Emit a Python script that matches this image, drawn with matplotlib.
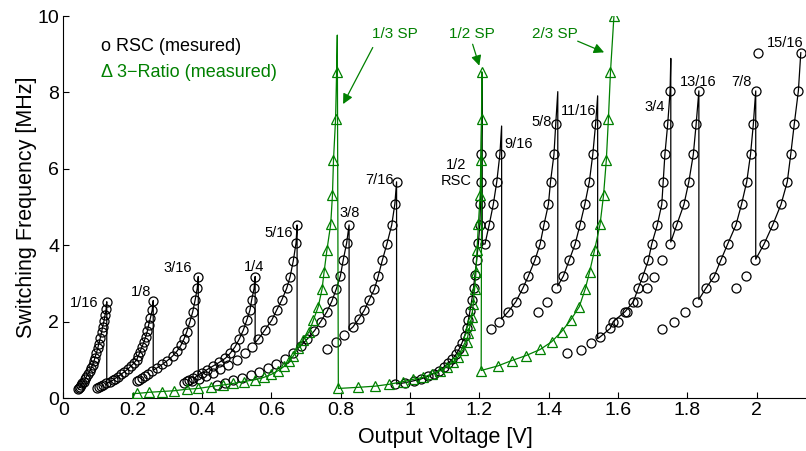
import matplotlib.pyplot as plt
import numpy as np

plt.rcParams['font.family'] = ['Liberation Sans', 'DejaVu Sans']

# RSC (measured) branches: output voltage [V] vs switching frequency [MHz]
v_1_16 = [0.125, 0.123, 0.12, 0.117, 0.113, 0.11, 0.106, 0.102, 0.099, 0.095, 0.091, 0.088,
          0.084, 0.08, 0.076, 0.071, 0.066, 0.062, 0.058, 0.054, 0.051, 0.048, 0.045, 0.043]
f_1_16 = [2.52, 2.32, 2.17, 2.02, 1.87, 1.72, 1.56, 1.42, 1.3, 1.18, 1.06, 0.96,
          0.87, 0.78, 0.7, 0.62, 0.55, 0.49, 0.43, 0.38, 0.34, 0.3, 0.27, 0.24]
v_1_8 = [0.259, 0.256, 0.251, 0.246, 0.242, 0.237, 0.232, 0.226, 0.221, 0.216, 0.211, 0.203, 0.194,
         0.185, 0.175, 0.166, 0.156, 0.149, 0.142, 0.133, 0.124, 0.115, 0.108, 0.102, 0.096]
f_1_8 = [2.55, 2.3, 2.1, 1.92, 1.75, 1.6, 1.46, 1.33, 1.21, 1.1, 1.0, 0.91, 0.83,
         0.75, 0.68, 0.62, 0.56, 0.51, 0.46, 0.42, 0.38, 0.34, 0.31, 0.28, 0.25]
v_3_16 = [0.389, 0.386, 0.38, 0.373, 0.365, 0.356, 0.348, 0.339, 0.328, 0.315, 0.3, 0.285,
          0.27, 0.256, 0.244, 0.234, 0.226, 0.219, 0.213]
f_3_16 = [3.18, 2.87, 2.57, 2.26, 2.0, 1.74, 1.55, 1.38, 1.23, 1.1, 0.98, 0.88,
          0.79, 0.71, 0.64, 0.58, 0.53, 0.48, 0.44]
v_1_4 = [0.553, 0.55, 0.543, 0.538, 0.529, 0.519, 0.507, 0.495, 0.481, 0.467, 0.449, 0.431,
         0.414, 0.399, 0.386, 0.374, 0.363, 0.355, 0.348]
f_1_4 = [3.18, 2.87, 2.57, 2.3, 2.04, 1.78, 1.54, 1.34, 1.17, 1.04, 0.93, 0.83,
         0.74, 0.66, 0.59, 0.53, 0.48, 0.44, 0.4]
v_5_16 = [0.674, 0.671, 0.663, 0.654, 0.644, 0.63, 0.615, 0.601, 0.581, 0.562, 0.543, 0.524,
          0.5, 0.476, 0.452, 0.43, 0.41, 0.39, 0.372]
f_5_16 = [4.53, 4.06, 3.59, 3.18, 2.87, 2.57, 2.3, 2.04, 1.78, 1.54, 1.34, 1.17,
          1.0, 0.87, 0.75, 0.65, 0.57, 0.5, 0.44]
v_3_8 = [0.824, 0.817, 0.807, 0.799, 0.787, 0.774, 0.76, 0.742, 0.724, 0.704, 0.684, 0.662,
         0.638, 0.614, 0.59, 0.565, 0.54, 0.515, 0.49, 0.466, 0.442]
f_3_8 = [4.53, 4.06, 3.61, 3.2, 2.85, 2.53, 2.26, 2.0, 1.76, 1.55, 1.36, 1.19,
         1.03, 0.9, 0.79, 0.69, 0.6, 0.52, 0.46, 0.4, 0.35]
v_7_16 = [0.961, 0.956, 0.947, 0.933, 0.92, 0.908, 0.897, 0.882, 0.868, 0.852, 0.835, 0.81, 0.785, 0.76]
f_7_16 = [5.66, 5.08, 4.53, 4.03, 3.61, 3.19, 2.85, 2.57, 2.3, 2.07, 1.86, 1.66, 1.47, 1.28]
v_1_2 = [1.205, 1.204, 1.203, 1.201, 1.197, 1.192, 1.187, 1.183, 1.178, 1.173, 1.168, 1.163, 1.157,
         1.15, 1.142, 1.133, 1.122, 1.11, 1.097, 1.083, 1.068, 1.052, 1.032, 1.01, 0.985, 0.955]
f_1_2 = [6.38, 5.66, 5.07, 4.53, 4.05, 3.61, 3.22, 2.88, 2.57, 2.29, 2.04, 1.82, 1.62,
         1.45, 1.29, 1.15, 1.02, 0.91, 0.81, 0.72, 0.64, 0.57, 0.5, 0.45, 0.4, 0.36]
v_9_16 = [1.259, 1.25, 1.24, 1.228, 1.216]
f_9_16 = [6.38, 5.66, 5.07, 4.53, 4.03]
v_5_8 = [1.42, 1.415, 1.405, 1.399, 1.386, 1.375, 1.36, 1.341, 1.325, 1.305, 1.283, 1.257, 1.232]
f_5_8 = [7.16, 6.38, 5.66, 5.07, 4.53, 4.03, 3.61, 3.19, 2.87, 2.52, 2.26, 2.0, 1.8]
v_11_16 = [1.535, 1.527, 1.517, 1.504, 1.49, 1.476, 1.459, 1.442, 1.422, 1.396, 1.37]
f_11_16 = [7.16, 6.38, 5.66, 5.07, 4.53, 4.03, 3.61, 3.19, 2.87, 2.52, 2.26]
v_3_4 = [1.75, 1.743, 1.735, 1.73, 1.726, 1.713, 1.697, 1.687, 1.671, 1.658, 1.644, 1.62,
         1.586, 1.577, 1.548, 1.522, 1.492, 1.452]
f_3_4 = [8.04, 7.16, 6.38, 5.66, 5.07, 4.53, 4.03, 3.6, 3.18, 2.87, 2.52, 2.26,
         2.0, 1.82, 1.6, 1.43, 1.26, 1.17]
v_13_16 = [1.833, 1.825, 1.817, 1.804, 1.79, 1.769, 1.75, 1.726, 1.704, 1.682, 1.655, 1.625, 1.6]
f_13_16 = [8.04, 7.16, 6.38, 5.66, 5.07, 4.53, 4.03, 3.6, 3.18, 2.87, 2.52, 2.26, 2.0]
v_7_8 = [1.997, 1.99, 1.982, 1.971, 1.956, 1.94, 1.916, 1.896, 1.877, 1.853, 1.829, 1.793, 1.761, 1.726]
f_7_8 = [8.04, 7.16, 6.38, 5.66, 5.07, 4.53, 4.03, 3.6, 3.18, 2.87, 2.52, 2.26, 2.0, 1.8]
v_15_16 = [2.127, 2.12, 2.108, 2.098, 2.088, 2.07, 2.046, 2.021, 1.995, 1.968, 1.94]
f_15_16 = [9.04, 8.04, 7.16, 6.38, 5.66, 5.07, 4.53, 4.03, 3.6, 3.19, 2.87]
v_stray = [2.004]
f_stray = [9.04]

# top of the black trace above the last marker of a branch (None = ends at marker)
top_1_2 = (1.208, 8.5)
top_9_16 = (1.264, 7.12)
top_5_8 = (1.426, 8.02)
top_11_16 = (1.541, 7.91)
top_3_4 = (1.752, 8.89)

# 3-Ratio (measured): 1/3 SP, 1/2 SP, 2/3 SP
v_sp13 = [0.213, 0.248, 0.283, 0.319, 0.356, 0.389, 0.425, 0.46, 0.489, 0.52, 0.553, 0.578, 0.6,
          0.62, 0.637, 0.652, 0.663, 0.676, 0.692, 0.709, 0.721, 0.735, 0.746, 0.752, 0.76,
          0.771, 0.776, 0.779, 0.785, 0.788]
f_sp13 = [0.12, 0.15, 0.17, 0.19, 0.23, 0.25, 0.3, 0.34, 0.38, 0.43, 0.48, 0.54, 0.62,
          0.72, 0.83, 0.97, 1.1, 1.3, 1.52, 1.74, 2.04, 2.39, 2.85, 3.31, 3.87,
          4.55, 5.31, 6.23, 7.3, 8.54]
v_sp12 = [0.793, 0.851, 0.899, 0.94, 0.98, 1.009, 1.038, 1.062, 1.086, 1.106, 1.125, 1.139, 1.153,
          1.163, 1.168, 1.173, 1.178, 1.182, 1.186, 1.19, 1.193, 1.197, 1.202, 1.204, 1.206, 1.207]
f_sp12 = [0.25, 0.28, 0.31, 0.36, 0.43, 0.49, 0.54, 0.63, 0.71, 0.82, 0.95, 1.08, 1.26,
          1.47, 1.69, 1.9, 2.13, 2.45, 2.85, 3.3, 3.87, 4.55, 5.31, 6.23, 7.3, 8.54]
v_sp23 = [1.205, 1.253, 1.293, 1.334, 1.375, 1.408, 1.437, 1.463, 1.488, 1.505, 1.518, 1.532,
          1.548, 1.558, 1.566, 1.572, 1.578, 1.588]
f_sp23 = [0.72, 0.84, 0.98, 1.11, 1.27, 1.47, 1.74, 2.04, 2.39, 2.85, 3.31, 3.87,
          4.55, 5.31, 6.23, 7.3, 8.54, 10.0]
sp13_start = (0.2, 0.0)
sp13_top = (0.79, 9.5)

branch_labels = ['1/16', '1/8', '3/16', '1/4', '5/16', '3/8', '7/16', '1/2\nRSC', '9/16',
                 '5/8', '11/16', '3/4', '13/16', '7/8', '15/16']
label_v = [0.059, 0.224, 0.331, 0.55, 0.62, 0.827, 0.911, 1.134, 1.314,
           1.38, 1.485, 1.704, 1.831, 1.956, 2.082]
label_f = [2.49, 2.77, 3.40, 3.44, 4.33, 4.84, 5.71, 5.89, 6.65,
           7.23, 7.52, 7.63, 8.28, 8.28, 9.29]

green = '#008000'

branches_v = [v_1_16, v_1_8, v_3_16, v_1_4, v_5_16, v_3_8, v_7_16, v_1_2, v_9_16,
              v_5_8, v_11_16, v_3_4, v_13_16, v_7_8, v_15_16]
branches_f = [f_1_16, f_1_8, f_3_16, f_1_4, f_5_16, f_3_8, f_7_16, f_1_2, f_9_16,
              f_5_8, f_11_16, f_3_4, f_13_16, f_7_8, f_15_16]
branches_top = [None, None, None, None, None, None, None, top_1_2, top_9_16,
                top_5_8, top_11_16, top_3_4, None, None, None]

fig = plt.figure(figsize=(8.06, 4.51), dpi=100)
ax = fig.add_axes([0.0787, 0.1175, 0.9213, 0.847])

# black trace: follow each branch up to its top, then drop to the next one
env_v, env_f = [], []
prev = None
for bv, bf, top in zip(branches_v, branches_f, branches_top):
    bv = np.array(bv)[::-1]
    bf = np.array(bf)[::-1]
    if prev is None:
        env_v += list(bv)
        env_f += list(bf)
    else:
        keep = bv > prev
        env_v += [prev] + list(bv[keep])
        env_f += [np.interp(prev, bv, bf)] + list(bf[keep])
    if top is not None:
        env_v.append(top[0])
        env_f.append(top[1])
    prev = env_v[-1]
ax.plot(env_v, env_f, color='black', lw=0.9, zorder=2)

for bv, bf in zip(branches_v + [v_stray], branches_f + [f_stray]):
    ax.plot(bv, bf, 'o', ms=6.5, mfc='none', mec='black', mew=0.9, zorder=3)

# green 3-ratio trace
g_v = [sp13_start[0], sp13_start[0]] + v_sp13 + [sp13_top[0]] + v_sp12 + v_sp23
g_f = [sp13_start[1], f_sp13[0]] + f_sp13 + [sp13_top[1]] + f_sp12 + f_sp23
ax.plot(g_v, g_f, color=green, lw=0.9, zorder=4)
ax.plot(v_sp13 + v_sp12 + v_sp23, f_sp13 + f_sp12 + f_sp23, '^', ms=7, mfc='none',
        mec=green, mew=0.9, zorder=5)

for txt, lv, lf in zip(branch_labels, label_v, label_f):
    ax.text(lv, lf, txt, fontsize=10.5, ha='center', va='center', linespacing=1.1)

# SP annotations
ax.text(0.956, 9.53, '1/3 SP', color=green, fontsize=11, ha='center', va='center')
ax.annotate('', xy=(0.803, 7.63), xytext=(0.896, 9.24),
            arrowprops=dict(arrowstyle='-|>', color=green, lw=0.9, mutation_scale=15))
ax.text(1.178, 9.53, '1/2 SP', color=green, fontsize=11, ha='center', va='center')
ax.annotate('', xy=(1.202, 8.63), xytext=(1.178, 9.33),
            arrowprops=dict(arrowstyle='-|>', color=green, lw=0.9, mutation_scale=15))
ax.text(1.418, 9.53, '2/3 SP', color=green, fontsize=11, ha='center', va='center')
ax.annotate('', xy=(1.567, 9.02), xytext=(1.476, 9.37),
            arrowprops=dict(arrowstyle='-|>', color=green, lw=0.9, mutation_scale=15))

ax.text(0.108, 9.19, 'o RSC (mesured)', fontsize=13, ha='left', va='center')
ax.text(0.108, 8.53, '\u0394 3\u2212Ratio (measured)', fontsize=13, ha='left', va='center',
        color=green)

x_ticks = [0, 0.2, 0.4, 0.6, 0.8, 1.0, 1.2, 1.4, 1.6, 1.8, 2.0]
x_tick_labels = ['0', '0.2', '0.4', '0.6', '0.8', '1', '1.2', '1.4', '1.6', '1.8', '2']
y_ticks = [0, 2, 4, 6, 8, 10]

ax.set_xlim(0, 2.142)
ax.set_ylim(0, 10)
ax.set_xticks(x_ticks)
ax.set_xticklabels(x_tick_labels)
ax.set_yticks(y_ticks)
ax.tick_params(direction='in', length=4, width=0.8, labelsize=14, pad=3)
ax.spines['top'].set_visible(False)
ax.spines['right'].set_visible(False)
ax.set_xlabel('Output Voltage [V]', fontsize=15.5)
ax.set_ylabel('Switching Frequency [MHz]', fontsize=15.5)
ax.xaxis.set_label_coords(0.515, -0.075)
ax.yaxis.set_label_coords(-0.036, 0.5)

fig.savefig('out.png', dpi=100)
